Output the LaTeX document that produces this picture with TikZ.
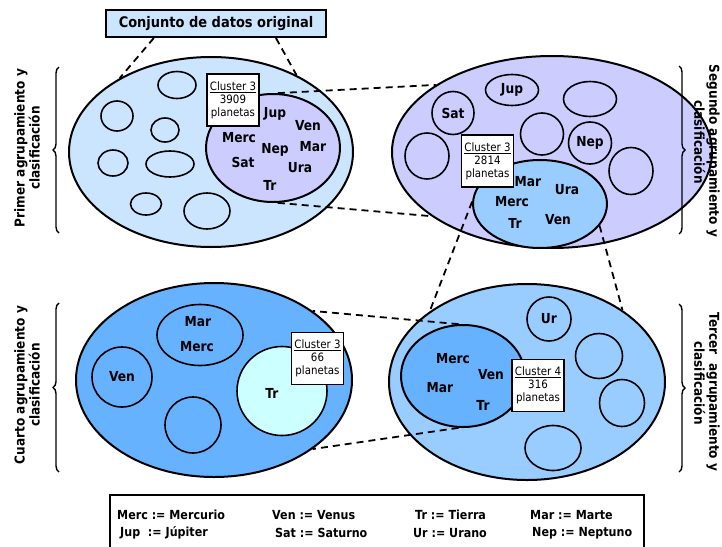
\documentclass[tikz,border=0pt]{standalone}
\usepackage{fontspec}
\setmainfont{DejaVu Sans}[FakeStretch=0.89]
\usepackage{tikz}
\usetikzlibrary{shapes.geometric,calc,decorations.pathreplacing}

\definecolor{lvlA}{HTML}{CCE5FF}
\definecolor{lvlB}{HTML}{CCCCFF}
\definecolor{lvlC}{HTML}{99CCFF}
\definecolor{lvlD}{HTML}{66B2FF}
\definecolor{lvlE}{HTML}{CCFFFF}

\begin{document}
\begin{tikzpicture}[x=1pt, y=-1pt,
  sz/.style 2 args={minimum width=#1, minimum height=#2},
  grupo/.style={ellipse, draw, line width=2pt, inner sep=0pt},
  sub/.style={ellipse, draw, line width=1.6pt, inner sep=0pt, font=\bfseries\fontsize{13.8}{15}\selectfont},
  pl/.style={inner sep=0pt, font=\bfseries\fontsize{13.8}{15}\selectfont},
  tag/.style={draw, fill=white, line width=1.6pt, align=center, inner sep=2pt,
    minimum width=52pt, minimum height=52pt, font=\fontsize{11.5}{13}\selectfont},
  side/.style={align=center, inner sep=0pt, font=\bfseries\fontsize{13.6}{15}\selectfont},
  leg/.style={anchor=west, inner sep=0pt, font=\bfseries\fontsize{12.5}{14}\selectfont},
  link/.style={line width=1.8pt, dash pattern=on 7pt off 5pt},
  brc/.style={decorate, decoration={brace, amplitude=6pt}, line width=1.4pt}]
  \useasboundingbox (0,0) rectangle (722,546);

  % titulo
  \node[draw, fill=lvlA, line width=2pt, sz={220pt}{27pt}, font=\bfseries\fontsize{14.6}{16}\selectfont] (titulo) at (216,23.5) {Conjunto de datos original};

  % primer agrupamiento
  \node[grupo, fill=lvlA, sz={284pt}{190pt}] (e1) at (211,152) {};
  \node[sub, sz={38pt}{27pt}] (s11) at (177,85) {};
  \node[sub, sz={32pt}{30pt}] (s12) at (117,116) {};
  \node[sub, sz={28pt}{24pt}] (s13) at (165,130) {};
  \node[sub, sz={30pt}{26pt}] (s14) at (113,163) {};
  \node[sub, sz={48pt}{26pt}] (s15) at (170,164) {};
  \node[sub, sz={31pt}{22pt}] (s16) at (146,204) {};
  \node[sub, sz={46pt}{36pt}] (s17) at (207,211) {};
  \node[grupo, fill=lvlB, sz={134pt}{108pt}] (c1) at (273,148) {};
  \node[pl] (jup1) at (275,114) {Jup};
  \node[pl] (ven1) at (308,126) {Ven};
  \node[pl] (mar1) at (313,147) {Mar};
  \node[pl] (merc1) at (239,138) {Merc};
  \node[pl] (nep1) at (275,150) {Nep};
  \node[pl] (sat1) at (243,162) {Sat};
  \node[pl] (ura1) at (300,168) {Ura};
  \node[pl] (tr1) at (270,185) {Tr};

  % segundo agrupamiento
  \node[grupo, fill=lvlB, sz={320pt}{192pt}] (e2) at (552,152) {};
  \node[sub, sz={42pt}{43pt}] (sat2) at (453,113) {Sat};
  \node[sub, sz={53pt}{31pt}] (jup2) at (512,90) {Jup};
  \node[sub, sz={53pt}{35pt}] (s23) at (590,99) {};
  \node[sub, sz={43pt}{42pt}] (s24) at (542,134) {};
  \node[sub, sz={43pt}{42pt}] (nep2) at (590,143) {Nep};
  \node[sub, sz={44pt}{46pt}] (s26) at (427,156) {};
  \node[sub, sz={44pt}{47pt}] (s27) at (631,171) {};
  \node[grupo, fill=lvlC, sz={134pt}{88pt}] (c2) at (540,204) {};
  \node[pl] (mar2) at (528,182) {Mar};
  \node[pl] (ura2) at (567,190) {Ura};
  \node[pl] (merc2) at (512,202) {Merc};
  \node[pl] (ven2) at (558,220) {Ven};
  \node[pl] (tr2) at (515,223) {Tr};

  % tercer agrupamiento
  \node[grupo, fill=lvlC, sz={276pt}{196pt}] (e4) at (527,382) {};
  \node[sub, sz={44pt}{44pt}] (ur4) at (549,319) {Ur};
  \node[sub, sz={47pt}{45pt}] (s42) at (599,356) {};
  \node[sub, sz={45pt}{47pt}] (s43) at (622,403) {};
  \node[sub, sz={56pt}{45pt}] (s44) at (553,448) {};
  \node[grupo, fill=lvlD, sz={124pt}{102pt}] (c4) at (463,376) {};
  \node[pl] (merc4) at (453,359) {Merc};
  \node[pl] (ven4) at (491,375) {Ven};
  \node[pl] (mar4) at (440,388) {Mar};
  \node[pl] (tr4) at (483,405) {Tr};

  % cuarto agrupamiento
  \node[grupo, fill=lvlD, sz={276pt}{194pt}] (e3) at (214,380) {};
  \node[sub, sz={86pt}{61pt}] (mm3) at (200,335) {};
  \node[pl] (mar3) at (198,322) {Mar};
  \node[pl] (merc3) at (197,347) {Merc};
  \node[sub, sz={60pt}{60pt}] (ven3) at (122,377) {Ven};
  \node[sub, sz={56pt}{56pt}] (s33) at (193,425) {};
  \node[sub, fill=lvlE, sz={90pt}{89pt}] (c3) at (282,391) {};
  \node[pl] (tr3) at (272,393) {Tr};

  % lineas entre niveles
  \draw[link] ($(titulo.south west)!0.22!(titulo.south east)$) -- (e1.141);
  \draw[link] ($(titulo.south west)!0.77!(titulo.south east)$) -- (e1.42);
  \draw[link] (c1.85) -- (e2.150);
  \draw[link] (c1.-85) -- (e2.208);
  \draw[link] (c2.178) -- (e4.144);
  \draw[link] (c2.-20) -- (e4.37);
  \draw[link] (c4.95) -- (e3.35);
  \draw[link] (c4.265) -- (e3.-35);

  % etiquetas de cluster
  \node[tag] (k1) at (233,100) {\underline{Cluster 3}\\3909\\planetas};
  \node[tag] (k2) at (487.5,161) {\underline{Cluster 3}\\2814\\planetas};
  \node[tag] (k4) at (538,385.5) {\underline{Cluster 4}\\316\\planetas};
  \node[tag] (k3) at (317.5,358.5) {\underline{Cluster 3}\\66\\planetas};

  % llaves y textos laterales
  \draw[brc] (59,233) -- (59,67);
  \draw[brc] (59,472) -- (59,303);
  \draw[brc] (679,66) -- (679,234);
  \draw[brc] (679,304) -- (679,472);
  \node[side, rotate=90] (lab1) at (27,148) {Primer agrupamiento y\\clasificación};
  \node[side, rotate=90] (lab4) at (27,385) {Cuarto agrupamiento y\\clasificación};
  \node[side, rotate=-90] (lab2) at (707,151) {Segundo agrupamiento y\\clasificación\hspace*{18pt}};
  \node[side, rotate=-90] (lab3) at (707,392) {Tercer~ agrupamiento y\\clasificación\hspace*{18pt}};

  % leyenda
  \node[draw, line width=2pt, sz={534pt}{61pt}] (leyenda) at (377,525.5) {};
  \node[leg] (l1) at (117,515) {Merc := Mercurio};
  \node[leg] (l2) at (272,515) {Ven := Venus};
  \node[leg] (l3) at (415,515) {Tr := Tierra};
  \node[leg] (l4) at (530,515) {Mar := Marte};
  \node[leg] (l5) at (120,533) {Jup~ := Júpiter};
  \node[leg] (l6) at (275,533) {Sat := Saturno};
  \node[leg] (l7) at (413,533) {Ur := Urano};
  \node[leg] (l8) at (532,533) {Nep := Neptuno};
\end{tikzpicture}
\end{document}
